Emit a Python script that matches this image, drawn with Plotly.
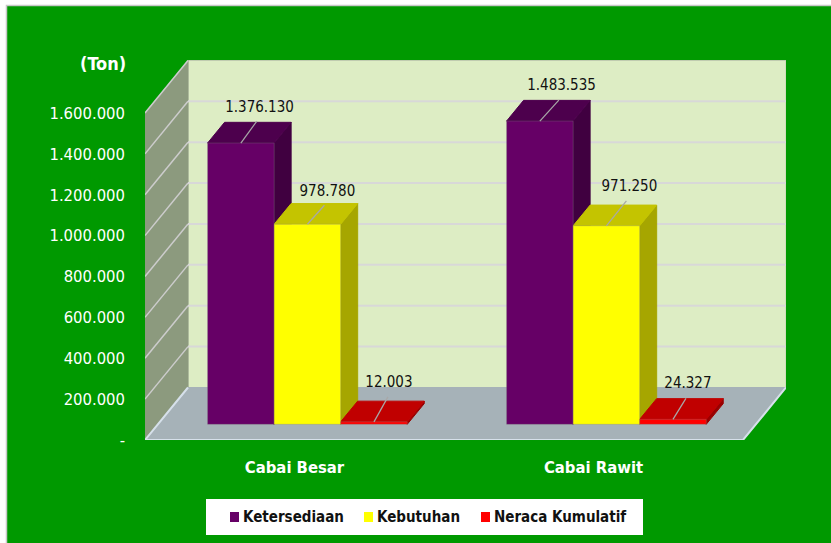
import plotly.graph_objects as go

# ---- data ----
categories = ["Cabai Besar", "Cabai Rawit"]
ketersediaan = [1376130, 1483535]
kebutuhan = [978780, 971250]
neraca = [12003, 24327]
y_ticks = [0, 200000, 400000, 600000, 800000, 1000000, 1200000, 1400000, 1600000]
y_labels = ["-", "200.000", "400.000", "600.000", "800.000", "1.000.000", "1.200.000", "1.400.000", "1.600.000"]

# ---- geometry / style ----
W, H = 831, 543
L, R, T, B = 145, 786, 60, 440     # plot area in pixels
PX_X = 299.0                       # pixels per category
PX_Y = 204.4e-6                    # pixels per value unit
XMIN = -0.5
XMAX = XMIN + (R - L) / PX_X
YMAX = (B - T) / PX_Y
WALL_DX, WALL_DY = 43 / PX_X, 52.5 / PX_Y     # depth of the box
BAR_DX, BAR_DY = 17 / PX_X, 20.7 / PX_Y       # depth of a bar
OFF_DX, OFF_DY = 12.9 / PX_X, 15.7 / PX_Y     # bar front plane offset from box front
BAR_W = 66.55 / PX_X

NARROW = "DejaVu Sans Condensed, DejaVu Sans, sans-serif"
series = [
    ("Ketersediaan", ketersediaan, "#660066", "#4D004D", "#400040", [18.7, 21.7], [-35, -35], [16, 19], [-22, -21]),
    ("Kebutuhan", kebutuhan, "#FFFF00", "#C4C400", "#A6A600", [20, 23], [-32, -39], [17, 20], [-19, -25]),
    ("Neraca Kumulatif", neraca, "#FF0000", "#C00000", "#990000", [15, 15], [-39, -35], [14, 13], [-25, -21]),
]
legend_left = [230, 364, 481]      # swatch left edge of each legend entry, pixels

fig = go.Figure()


def poly(xs, ys, fill, line=None, lw=1):
    fig.add_trace(go.Scatter(
        x=list(xs) + [xs[0]], y=list(ys) + [ys[0]], mode="lines", fill="toself",
        fillcolor=fill, line=dict(color=line or fill, width=lw), hoverinfo="skip",
        showlegend=False, cliponaxis=False, xaxis="x", yaxis="y"))


def seg(xs, ys, color, lw):
    fig.add_trace(go.Scatter(
        x=xs, y=ys, mode="lines", line=dict(color=color, width=lw), hoverinfo="skip",
        showlegend=False, cliponaxis=False, xaxis="x", yaxis="y"))


def px(x):
    return (x - L) / (R - L)


def py(y):
    return (B - y) / (B - T)


X0, X1 = XMIN, XMIN + len(categories)
TOP = y_ticks[-1]
# back wall, left wall, floor
poly([X0 + WALL_DX, X1 + WALL_DX, X1 + WALL_DX, X0 + WALL_DX],
     [WALL_DY, WALL_DY, TOP + WALL_DY, TOP + WALL_DY], "#DDEDC4", "#C4CCB4", 1)
poly([X0, X0 + WALL_DX, X0 + WALL_DX, X0],
     [0, WALL_DY, TOP + WALL_DY, TOP], "#8C9A7E", "#8C9A7E", 1)
for t in y_ticks[1:-1]:
    seg([X0 + WALL_DX, X1 + WALL_DX], [t + WALL_DY, t + WALL_DY], "#D8D8D8", 2)
for t in y_ticks[1:]:
    seg([X0, X0 + WALL_DX], [t, t + WALL_DY], "#CCCCCC", 1.5)
poly([X0, X1, X1 + WALL_DX, X0 + WALL_DX], [0, 0, WALL_DY, WALL_DY], "#A6B2B8", "#A6B2B8", 1)
seg([X0 + WALL_DX, X0, X1, X1 + WALL_DX], [WALL_DY, 0, 0, WALL_DY], "#D6E0EA", 2)

# sides and tops of the bars
for k, (name, vals, front, top, side, *_rest) in enumerate(series):
    for i, v in enumerate(vals):
        xl = i + OFF_DX + (k - 1.5) * BAR_W
        xr = xl + BAR_W
        yb, yt = OFF_DY, OFF_DY + v
        poly([xr, xr + BAR_DX, xr + BAR_DX, xr], [yb, yb + BAR_DY, yt + BAR_DY, yt], side)
        poly([xl, xr, xr + BAR_DX, xl + BAR_DX], [yt, yt, yt + BAR_DY, yt + BAR_DY], top)

# front faces: real bars on an overlaid axis pair shifted to the bars' depth plane
for name, vals, front, *_rest in series:
    fig.add_trace(go.Bar(
        x=list(range(len(categories))), y=vals, base=[OFF_DY] * len(vals), name=name,
        marker=dict(color=front, line=dict(color="rgba(128,128,128,0.4)", width=0.75)),
        xaxis="x2", yaxis="y2", hoverinfo="skip", showlegend=False))

# leader lines and value labels
for k, (name, vals, front, top, side, tdx, tdy, ldx, ldy) in enumerate(series):
    for i, v in enumerate(vals):
        cx = i + (k - 1) * BAR_W
        yt = OFF_DY + v
        fig.add_trace(go.Scatter(
            x=[cx, cx + ldx[i] / PX_X], y=[yt, yt - ldy[i] / PX_Y], mode="lines",
            line=dict(color="#A8A8A8", width=1.25), hoverinfo="skip", showlegend=False,
            xaxis="x2", yaxis="y2", cliponaxis=False))
        fig.add_trace(go.Scatter(
            x=[cx + tdx[i] / PX_X], y=[yt - tdy[i] / PX_Y], mode="text",
            text=[f"{v:,}".replace(",", ".")], textposition="middle center",
            textfont=dict(family=NARROW, size=15, color="#111111"),
            hoverinfo="skip", showlegend=False, xaxis="x2", yaxis="y2", cliponaxis=False))

shapes = [
    dict(type="rect", xref="paper", yref="paper", layer="below",
         x0=px(6.5), x1=px(W + 10), y0=py(H + 10), y1=py(5.5),
         fillcolor="#009900", line=dict(color="#C8C8C8", width=1.5)),
    dict(type="rect", xref="paper", yref="paper", layer="below",
         x0=px(206), x1=px(643), y0=py(535), y1=py(499),
         fillcolor="white", line=dict(width=0)),
]
annotations = [dict(
    text="(Ton)", xref="paper", yref="paper", x=px(128), y=py(63),
    xanchor="right", yanchor="middle", showarrow=False,
    font=dict(family=NARROW, size=18, color="white", weight=700))]
for (name, vals, front, *_rest), left in zip(series, legend_left):
    shapes.append(dict(type="rect", xref="paper", yref="paper", layer="below",
                       x0=px(left), x1=px(left + 9), y0=py(522), y1=py(512),
                       fillcolor=front, line=dict(width=0)))
    annotations.append(dict(
        text=name, xref="paper", yref="paper", x=px(left + 12), y=py(517),
        xanchor="left", yanchor="middle", showarrow=False, xshift=-1,
        font=dict(family=NARROW, size=15, color="#111111", weight=700)))

fig.update_layout(
    width=W, height=H,
    margin=dict(l=L, r=W - R, t=T, b=H - B, pad=0, autoexpand=False),
    paper_bgcolor="white", plot_bgcolor="rgba(0,0,0,0)",
    barmode="group", bargap=1 - 3 * BAR_W, bargroupgap=0,
    showlegend=False,
    xaxis=dict(
        range=[XMIN, XMAX], tickvals=list(range(len(categories))), ticktext=categories,
        showgrid=False, zeroline=False, showline=False, ticks="", ticklabelstandoff=15,
        tickfont=dict(family=NARROW, size=16.5, color="white", weight=700),
    ),
    yaxis=dict(
        range=[0, YMAX], tickvals=y_ticks, ticktext=y_labels,
        showgrid=False, zeroline=False, showline=False, ticks="", ticklabelstandoff=19,
        tickfont=dict(family=NARROW, size=16.5, color="white"),
    ),
    xaxis2=dict(range=[XMIN - OFF_DX, XMAX - OFF_DX], overlaying="x", visible=False),
    yaxis2=dict(range=[0, YMAX], overlaying="y", visible=False),
    shapes=shapes,
    annotations=annotations,
)

fig.write_html("out.html", config={"displayModeBar": False},
               post_script="document.body.style.margin='0';")
